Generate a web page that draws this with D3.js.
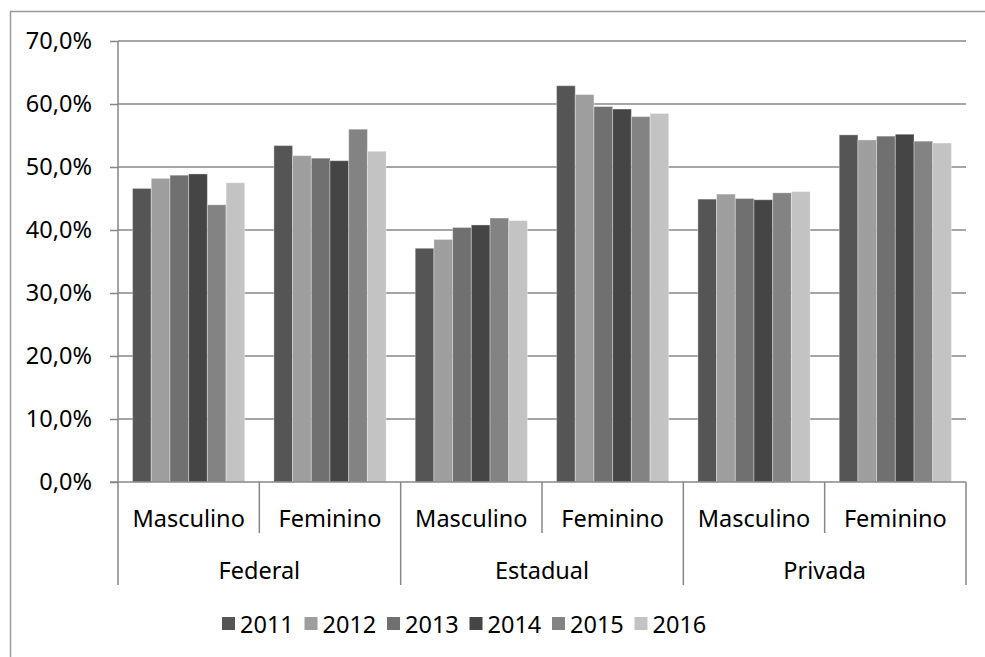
<!DOCTYPE html>
<html>
<head>
<meta charset="utf-8">
<script src="https://cdn.jsdelivr.net/npm/d3@7/dist/d3.min.js"></script>
<style>
  html, body { margin: 0; padding: 0; background: #fff; }
  svg { display: block; }
  text { font-family: "Noto Sans", "Open Sans", sans-serif; fill: #000; }
</style>
</head>
<body>
<script>
// Institution groups, gender within each group, and the years shown as series
const groups = ["Federal", "Estadual", "Privada"];
const genders = ["Masculino", "Feminino"];
const years = ["2011", "2012", "2013", "2014", "2015", "2016"];
const yTicks = [0, 10, 20, 30, 40, 50, 60, 70];

// Share (%) per year, in order: Federal M, Federal F, Estadual M, Estadual F, Privada M, Privada F
const v2011 = [46.6, 53.4, 37.1, 62.9, 44.9, 55.1];
const v2012 = [48.2, 51.8, 38.5, 61.5, 45.7, 54.3];
const v2013 = [48.7, 51.4, 40.4, 59.6, 45.0, 54.9];
const v2014 = [48.9, 51.0, 40.8, 59.2, 44.8, 55.2];
const v2015 = [44.0, 56.0, 41.9, 58.0, 45.9, 54.1];
const v2016 = [47.5, 52.5, 41.5, 58.5, 46.1, 53.8];
const seriesValues = [v2011, v2012, v2013, v2014, v2015, v2016];

const colors = ["#555555", "#9e9e9e", "#707070", "#454545", "#838383", "#c3c3c3"];

const W = 985, H = 657;
const plotLeft = 118, plotRight = 966, plotTop = 41, plotBase = 482;
const fontSize = 23.5;

const svg = d3.select("body").append("svg").attr("width", W).attr("height", H);

// chart frame (left and top edges fall inside the view)
svg.append("rect")
  .attr("x", 10.5).attr("y", 11.5)
  .attr("width", W + 20).attr("height", H + 20)
  .attr("fill", "none").attr("stroke", "#9a9a9a").attr("stroke-width", 1.5);

// one slot per group/gender pair
const slots = [];
groups.forEach(g => genders.forEach(s => slots.push(g + "|" + s)));

const y = d3.scaleLinear().domain([0, 70]).range([plotBase, plotTop]);
const x0 = d3.scaleBand().domain(slots).range([plotLeft, plotRight]).paddingInner(0).paddingOuter(0);
const bw = x0.bandwidth();
const x1 = d3.scaleBand().domain(years).range([bw * 0.103, bw * 0.897]).padding(0);
const xg = d3.scaleBand().domain(groups).range([plotLeft, plotRight]);

// horizontal gridlines
svg.append("g").selectAll("line").data(yTicks.filter(d => d > 0)).join("line")
  .attr("x1", plotLeft).attr("x2", plotRight)
  .attr("y1", d => y(d)).attr("y2", d => y(d))
  .attr("stroke", "#878787").attr("stroke-width", 1.5);

// y axis
const fmt = d => d.toFixed(1).replace(".", ",") + "%";
const yAxis = svg.append("g").attr("transform", `translate(${plotLeft},0)`)
  .call(d3.axisLeft(y).tickValues(yTicks).tickFormat(fmt).tickSize(8).tickPadding(18));
yAxis.select(".domain").remove();
yAxis.selectAll(".tick line").attr("stroke", "#878787").attr("stroke-width", 1.5);
yAxis.selectAll(".tick text").attr("font-size", fontSize).attr("fill", "#000")
  .attr("font-family", "'Noto Sans', sans-serif");

// bars
const barData = [];
seriesValues.forEach((vals, si) => vals.forEach((v, ci) => barData.push({ year: years[si], slot: slots[ci], v, si })));
svg.append("g").selectAll("rect").data(barData).join("rect")
  .attr("x", d => x0(d.slot) + x1(d.year))
  .attr("width", x1.bandwidth())
  .attr("y", d => y(d.v))
  .attr("height", d => y(0) - y(d.v))
  .attr("fill", d => colors[d.si])
  .attr("stroke", "rgba(255,255,255,0.35)").attr("stroke-width", 1);

// category axis: baseline, dividers and labels
const axisColor = "#878787";
svg.append("line").attr("x1", plotLeft - 8).attr("x2", plotRight).attr("y1", plotBase).attr("y2", plotBase)
  .attr("stroke", axisColor).attr("stroke-width", 1.5);
svg.append("line").attr("x1", plotLeft).attr("x2", plotLeft).attr("y1", plotTop).attr("y2", plotBase)
  .attr("stroke", axisColor).attr("stroke-width", 1.5);

// short dividers between genders
svg.append("g").selectAll("line").data(groups).join("line")
  .attr("x1", g => x0(g + "|Feminino")).attr("x2", g => x0(g + "|Feminino"))
  .attr("y1", plotBase).attr("y2", 533)
  .attr("stroke", axisColor).attr("stroke-width", 1.5);

// long dividers between institution groups
const groupEdges = groups.map(g => xg(g)).concat([plotRight]);
svg.append("g").selectAll("line").data(groupEdges).join("line")
  .attr("x1", d => d).attr("x2", d => d)
  .attr("y1", plotBase).attr("y2", 585)
  .attr("stroke", axisColor).attr("stroke-width", 1.5);

svg.append("g").selectAll("text").data(slots).join("text")
  .attr("x", d => x0(d) + bw / 2).attr("y", 518)
  .attr("text-anchor", "middle").attr("dominant-baseline", "central")
  .attr("font-size", fontSize)
  .text(d => d.split("|")[1]);

svg.append("g").selectAll("text").data(groups).join("text")
  .attr("x", g => xg(g) + xg.bandwidth() / 2).attr("y", 570)
  .attr("text-anchor", "middle").attr("dominant-baseline", "central")
  .attr("font-size", fontSize)
  .text(g => g);

// legend
const leg = svg.append("g");
const legX = d3.scalePoint().domain(years).range([222, 634.5]);
const items = leg.selectAll("g").data(years).join("g")
  .attr("transform", d => `translate(${legX(d)},0)`);
items.append("rect").attr("x", 0).attr("y", 617).attr("width", 13).attr("height", 13)
  .attr("fill", (d, i) => colors[i]);
items.append("text").attr("x", 18).attr("y", 624)
  .attr("dominant-baseline", "central").attr("font-size", fontSize)
  .text(d => d);
</script>
</body>
</html>
